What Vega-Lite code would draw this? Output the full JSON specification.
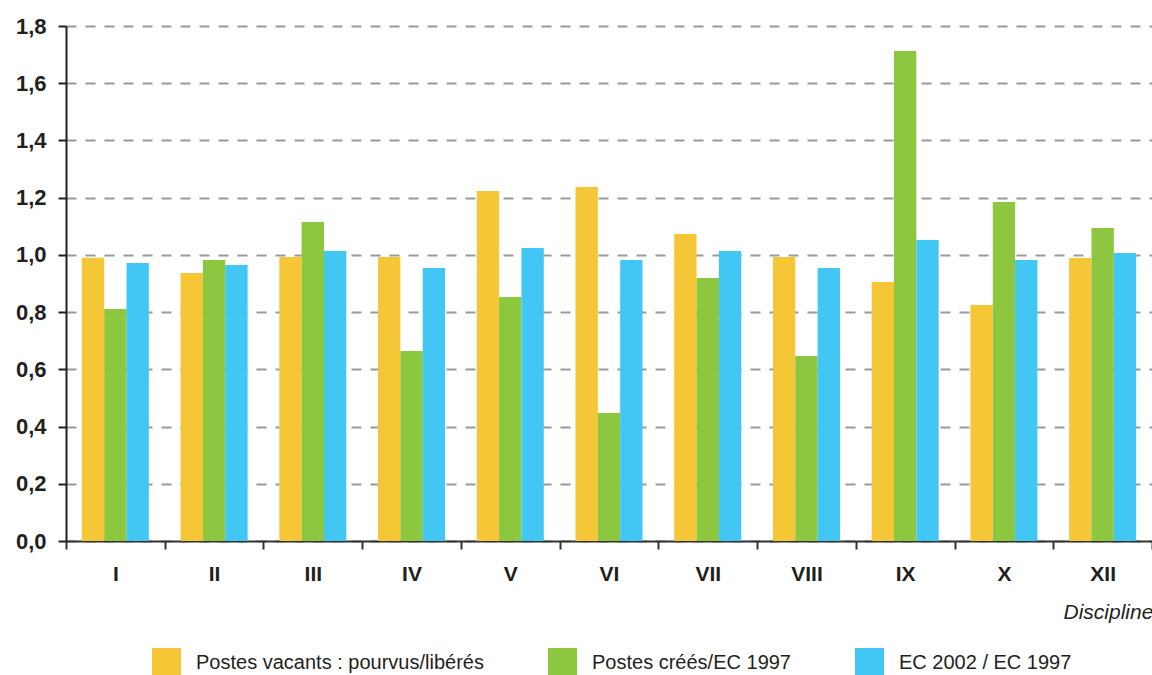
{
  "$schema": "https://vega.github.io/schema/vega-lite/v6.json",
  "width": 1086,
  "height": 515,
  "autosize": {"type": "none"},
  "padding": {"left": 66, "top": 26, "right": 0, "bottom": 134},
  "background": "white",
  "config": {
    "view": {"stroke": null},
    "font": "Liberation Sans"
  },
  "data": {
    "values": [
      {"discipline": "I", "serie": "Postes vacants : pourvus/libérés", "valeur": 0.99},
      {"discipline": "I", "serie": "Postes créés/EC 1997", "valeur": 0.811},
      {"discipline": "I", "serie": "EC 2002 / EC 1997", "valeur": 0.972},
      {"discipline": "II", "serie": "Postes vacants : pourvus/libérés", "valeur": 0.937},
      {"discipline": "II", "serie": "Postes créés/EC 1997", "valeur": 0.982},
      {"discipline": "II", "serie": "EC 2002 / EC 1997", "valeur": 0.965},
      {"discipline": "III", "serie": "Postes vacants : pourvus/libérés", "valeur": 0.993},
      {"discipline": "III", "serie": "Postes créés/EC 1997", "valeur": 1.115},
      {"discipline": "III", "serie": "EC 2002 / EC 1997", "valeur": 1.014},
      {"discipline": "IV", "serie": "Postes vacants : pourvus/libérés", "valeur": 0.993},
      {"discipline": "IV", "serie": "Postes créés/EC 1997", "valeur": 0.664},
      {"discipline": "IV", "serie": "EC 2002 / EC 1997", "valeur": 0.954},
      {"discipline": "V", "serie": "Postes vacants : pourvus/libérés", "valeur": 1.223},
      {"discipline": "V", "serie": "Postes créés/EC 1997", "valeur": 0.853},
      {"discipline": "V", "serie": "EC 2002 / EC 1997", "valeur": 1.024},
      {"discipline": "VI", "serie": "Postes vacants : pourvus/libérés", "valeur": 1.237},
      {"discipline": "VI", "serie": "Postes créés/EC 1997", "valeur": 0.447},
      {"discipline": "VI", "serie": "EC 2002 / EC 1997", "valeur": 0.982},
      {"discipline": "VII", "serie": "Postes vacants : pourvus/libérés", "valeur": 1.073},
      {"discipline": "VII", "serie": "Postes créés/EC 1997", "valeur": 0.919},
      {"discipline": "VII", "serie": "EC 2002 / EC 1997", "valeur": 1.014},
      {"discipline": "VIII", "serie": "Postes vacants : pourvus/libérés", "valeur": 0.993},
      {"discipline": "VIII", "serie": "Postes créés/EC 1997", "valeur": 0.647},
      {"discipline": "VIII", "serie": "EC 2002 / EC 1997", "valeur": 0.954},
      {"discipline": "IX", "serie": "Postes vacants : pourvus/libérés", "valeur": 0.905},
      {"discipline": "IX", "serie": "Postes créés/EC 1997", "valeur": 1.713},
      {"discipline": "IX", "serie": "EC 2002 / EC 1997", "valeur": 1.052},
      {"discipline": "X", "serie": "Postes vacants : pourvus/libérés", "valeur": 0.825},
      {"discipline": "X", "serie": "Postes créés/EC 1997", "valeur": 1.185},
      {"discipline": "X", "serie": "EC 2002 / EC 1997", "valeur": 0.982},
      {"discipline": "XII", "serie": "Postes vacants : pourvus/libérés", "valeur": 0.989},
      {"discipline": "XII", "serie": "Postes créés/EC 1997", "valeur": 1.094},
      {"discipline": "XII", "serie": "EC 2002 / EC 1997", "valeur": 1.007}
    ]
  },
  "mark": {"type": "bar"},
  "encoding": {
    "x": {
      "field": "discipline",
      "type": "nominal",
      "sort": ["I", "II", "III", "IV", "V", "VI", "VII", "VIII", "IX", "X", "XII"],
      "scale": {"paddingInner": 0, "paddingOuter": 0},
      "axis": {
        "title": "Discipline",
        "titleFontStyle": "italic",
        "titleFontWeight": "normal",
        "titleFontSize": 21,
        "titleColor": "#231f20",
        "titleX": 997,
        "titleY": 77,
        "titleAlign": "left",
        "titleAnchor": null,
        "titleBaseline": "alphabetic",
        "labelAngle": 0,
        "labelFontSize": 21,
        "labelFontWeight": "bold",
        "labelColor": "#231f20",
        "labelPadding": 14,
        "domainColor": "#333333",
        "domainWidth": 2,
        "tickColor": "#333333",
        "tickWidth": 2,
        "tickSize": 8,
        "tickBand": "extent",
        "grid": false
      }
    },
    "xOffset": {
      "field": "serie",
      "type": "nominal",
      "sort": ["Postes vacants : pourvus/libérés", "Postes créés/EC 1997", "EC 2002 / EC 1997"],
      "scale": {"paddingInner": 0, "paddingOuter": 0.71}
    },
    "y": {
      "field": "valeur",
      "type": "quantitative",
      "scale": {"domain": [0, 1.8], "nice": false, "zero": true},
      "axis": {
        "title": null,
        "values": [0, 0.2, 0.4, 0.6, 0.8, 1.0, 1.2, 1.4, 1.6, 1.8],
        "labelExpr": "replace(format(datum.value, '.1f'), '.', ',')",
        "labelFontSize": 22,
        "labelFontWeight": "bold",
        "labelColor": "#231f20",
        "labelPadding": 12,
        "domainColor": "#231f20",
        "domainWidth": 2,
        "tickColor": "#231f20",
        "tickWidth": 2,
        "tickSize": 8,
        "grid": true,
        "gridColor": "#9a9a9a",
        "gridWidth": 2,
        "gridDash": [10, 9]
      }
    },
    "color": {
      "field": "serie",
      "type": "nominal",
      "sort": ["Postes vacants : pourvus/libérés", "Postes créés/EC 1997", "EC 2002 / EC 1997"],
      "scale": {
        "domain": ["Postes vacants : pourvus/libérés", "Postes créés/EC 1997", "EC 2002 / EC 1997"],
        "range": ["#F5C636", "#8DC63F", "#42C7F4"]
      },
      "legend": {
        "title": null,
        "orient": "none",
        "legendX": 86,
        "legendY": 622,
        "direction": "horizontal",
        "columns": 3,
        "padding": 0,
        "symbolType": "square",
        "symbolSize": 841,
        "symbolStrokeWidth": 0,
        "symbolOpacity": 1,
        "labelFontSize": 20,
        "labelColor": "#231f20",
        "labelOffset": 15,
        "labelLimit": 400,
        "columnPadding": 64
      }
    }
  }
}
